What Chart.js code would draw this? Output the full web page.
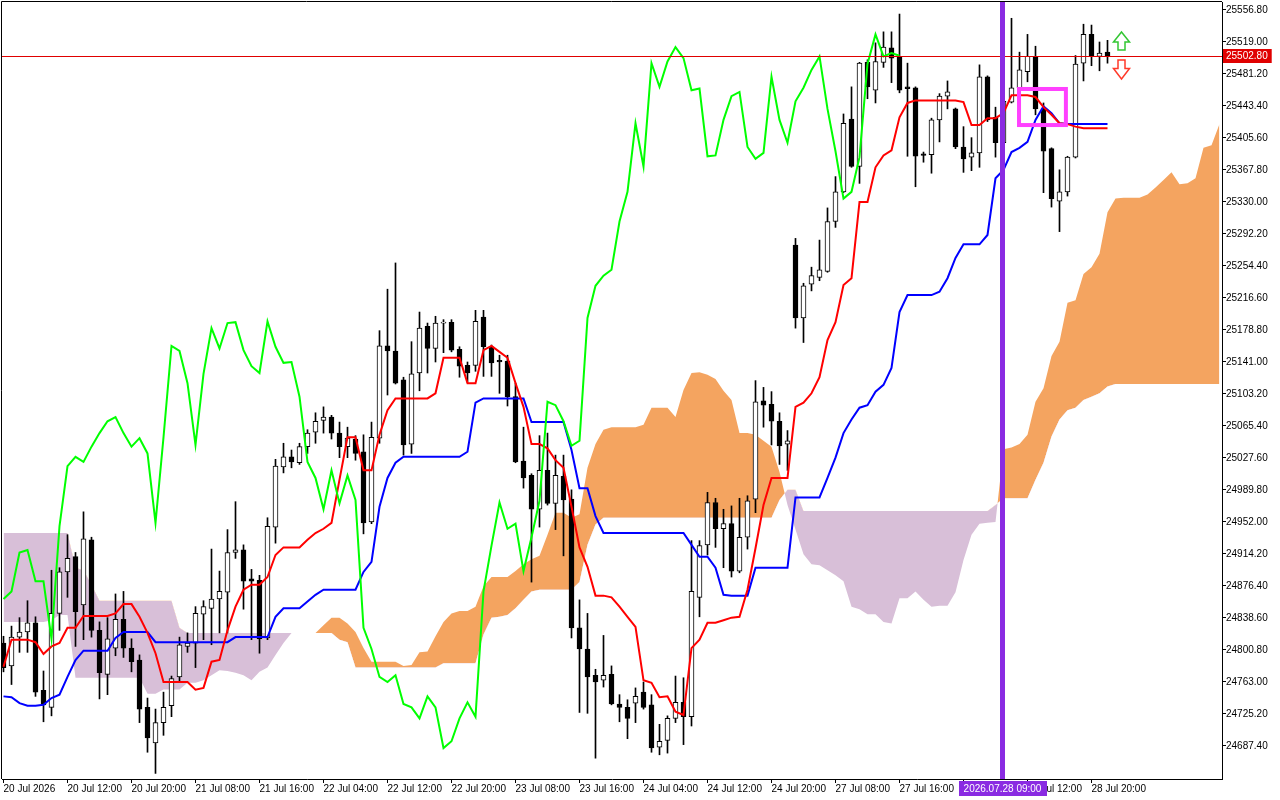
<!DOCTYPE html>
<html>
<head>
<meta charset="utf-8">
<title>Ichimoku H1</title>
<script src="https://cdn.jsdelivr.net/npm/chart.js"></script>
<style>
  html, body { margin: 0; padding: 0; background: #fff; overflow: hidden; }
  #wrap { width: 1280px; height: 800px; }
</style>
</head>
<body>
<div id="wrap"><canvas id="ichimokuChart" width="1280" height="800"></canvas></div>
<script>
// hourly candles, 20 Jul - 28 Jul 2026 (bar 0 = first visible bar)
const opens = [
  24809, 24782, 24816, 24822, 24833, 24753, 24733, 24844, 24893, 24911,
  24854, 24931, 24824, 24772, 24803, 24837, 24803, 24789, 24733, 24691,
  24715, 24735, 24769, 24805, 24809, 24843, 24850, 24861, 24869, 24916,
  24919, 24885, 24883, 24815, 24946, 25017, 25029, 25022, 25041, 25058,
  25072, 25076, 25057, 25041, 25050, 25035, 24952, 25051, 25160, 25154,
  25120, 25044, 25128, 25183, 25157, 25187, 25188, 25156, 25137, 25137,
  25194, 25159, 25143, 25142, 25100, 25024, 25007, 24967, 25013, 24974,
  25006, 24979, 24827, 24802, 24771, 24765, 24772, 24737, 24733, 24738,
  24751, 24736, 24686, 24694, 24720, 24739, 24722, 24863, 24925, 24975,
  24944, 24950, 24894, 24934, 24979, 25095, 25091, 25071, 25044, 25279,
  25193, 25233, 25241, 25248, 25307, 25342, 25428, 25372, 25495, 25462,
  25495, 25512, 25501, 25466, 25465, 25387, 25386, 25427, 25455, 25440,
  25395, 25383, 25388, 25478, 25430, 25400, 25448, 25465, 25484, 25502,
  25440, 25393, 25331, 25342, 25383, 25494, 25528, 25502, 25507
];
const highs = [
  24817, 24829, 24839, 24859, 24840, 24776, 24895, 24898, 24937, 24916,
  24964, 24934, 24834, 24839, 24867, 24870, 24814, 24795, 24744, 24731,
  24751, 24770, 24816, 24821, 24852, 24859, 24920, 24894, 24943, 24976,
  24925, 24896, 24889, 24957, 25026, 25045, 25037, 25045, 25061, 25081,
  25088, 25078, 25070, 25064, 25054, 25055, 25070, 25178, 25227, 25258,
  25123, 25165, 25200, 25187, 25195, 25191, 25191, 25159, 25141, 25202,
  25202, 25161, 25149, 25149, 25116, 25064, 25009, 25054, 25057, 25031,
  25031, 24990, 24860, 24844, 24778, 24818, 24782, 24748, 24742, 24756,
  24763, 24748, 24713, 24723, 24770, 24768, 24930, 24930, 24987, 24980,
  24967, 24971, 24980, 24983, 25119, 25111, 25106, 25081, 25060, 25287,
  25234, 25253, 25285, 25323, 25360, 25434, 25466, 25495, 25498, 25518,
  25531, 25531, 25552, 25494, 25466, 25389, 25429, 25458, 25473, 25441,
  25419, 25406, 25492, 25479, 25442, 25456, 25547, 25507, 25528, 25514,
  25447, 25394, 25368, 25384, 25503, 25540, 25539, 25519, 25521
];
const lows = [
  24775, 24760, 24798, 24798, 24746, 24716, 24723, 24824, 24863, 24805,
  24813, 24816, 24743, 24748, 24794, 24792, 24775, 24715, 24680, 24655,
  24700, 24722, 24764, 24798, 24780, 24813, 24807, 24821, 24821, 24909,
  24849, 24813, 24797, 24813, 24927, 25010, 25016, 25020, 25033, 25045,
  25057, 25050, 25028, 25028, 25025, 24938, 24950, 25045, 25102, 25115,
  25031, 25033, 25107, 25128, 25141, 25152, 25153, 25123, 25117, 25130,
  25124, 25124, 25104, 25089, 25022, 24992, 24881, 24946, 24972, 24943,
  24912, 24815, 24727, 24726, 24673, 24757, 24736, 24716, 24696, 24715,
  24731, 24680, 24677, 24679, 24715, 24689, 24711, 24840, 24913, 24922,
  24898, 24887, 24892, 24920, 24963, 25064, 25043, 25020, 25013, 25181,
  25164, 25225, 25237, 25247, 25300, 25341, 25371, 25352, 25452, 25447,
  25489, 25471, 25459, 25384, 25348, 25377, 25364, 25401, 25440, 25393,
  25365, 25367, 25371, 25425, 25383, 25391, 25447, 25462, 25472, 25433,
  25341, 25324, 25295, 25337, 25382, 25473, 25491, 25485, 25494
];
const closes = [
  24780, 24816, 24822, 24833, 24751, 24736, 24844, 24893, 24909, 24846,
  24932, 24824, 24774, 24814, 24837, 24803, 24787, 24731, 24697, 24715,
  24733, 24767, 24807, 24809, 24844, 24852, 24861, 24870, 24916, 24919,
  24882, 24882, 24814, 24947, 25018, 25029, 25023, 25041, 25057, 25071,
  25076, 25057, 25041, 25051, 25033, 24951, 25052, 25160, 25154, 25116,
  25043, 25127, 25181, 25157, 25187, 25188, 25155, 25136, 25128, 25189,
  25159, 25140, 25141, 25100, 25023, 25004, 24967, 25013, 24974, 25007,
  24978, 24827, 24802, 24769, 24763, 24771, 24737, 24733, 24720, 24746,
  24733, 24685, 24693, 24720, 24739, 24722, 24870, 24924, 24975, 24944,
  24950, 24894, 24934, 24977, 25094, 25090, 25071, 25042, 25048, 25193,
  25231, 25243, 25250, 25307, 25342, 25423, 25372, 25494, 25466, 25496,
  25513, 25500, 25462, 25464, 25384, 25385, 25427, 25455, 25460, 25395,
  25381, 25388, 25478, 25427, 25400, 25449, 25465, 25486, 25502, 25440,
  25390, 25334, 25342, 25383, 25493, 25528, 25502, 25506, 25502.8
];

// Ichimoku lines
const tenkan = [
  24781, 24813, 24813, 24813, 24810, 24796, 24805, 24809, 24827, 24827,
  24841, 24841, 24841, 24841, 24844, 24855, 24855, 24840, 24821, 24797,
  24763, 24763, 24763, 24763, 24754, 24756, 24787, 24789, 24824, 24852,
  24872, 24878, 24878, 24887, 24913, 24922, 24922, 24922, 24931, 24939,
  24944, 24951, 25002, 25052, 25052, 25013, 25013, 25055, 25084, 25098,
  25098, 25098, 25098, 25098, 25104, 25146, 25146, 25146, 25116, 25116,
  25155, 25160, 25153, 25146, 25116, 25088, 25044, 25044, 25039, 25025,
  25016, 24970, 24922, 24899, 24865, 24865, 24863, 24852, 24840, 24828,
  24765, 24762, 24745, 24746, 24728, 24724, 24803, 24813, 24833, 24833,
  24836, 24839, 24840, 24872, 24921, 24972, 25004, 25004, 25004, 25088,
  25093, 25104, 25123, 25167, 25188, 25232, 25240, 25330, 25330, 25371,
  25385, 25391, 25430, 25447, 25450, 25450, 25450, 25450, 25450, 25450,
  25448, 25421, 25421, 25429, 25429, 25435, 25456, 25456, 25456, 25454,
  25442, 25433, 25423, 25422, 25419, 25417, 25417, 25417, 25417
];
const kijun = [
  24746, 24745, 24738, 24735, 24735, 24736, 24744, 24748, 24769, 24789,
  24800, 24800, 24800, 24800, 24815, 24822, 24822, 24822, 24822, 24810,
  24810, 24810, 24810, 24810, 24810, 24810, 24810, 24810, 24810, 24816,
  24816, 24816, 24816, 24816, 24840, 24850, 24850, 24850, 24858, 24866,
  24872, 24872, 24872, 24872, 24872, 24893, 24905, 24970, 25004, 25022,
  25029, 25029, 25029, 25029, 25029, 25029, 25029, 25029, 25035, 25093,
  25098, 25098, 25098, 25098, 25098, 25098, 25070, 25070, 25070, 25070,
  25070, 25037, 24992, 24992, 24959, 24939, 24939, 24939, 24939, 24939,
  24939, 24939, 24939, 24939, 24939, 24939, 24925, 24911, 24911, 24898,
  24866, 24865, 24865, 24865, 24898, 24898, 24898, 24898, 24898, 24981,
  24981, 24981, 24981, 25004, 25028, 25057, 25073, 25087, 25090, 25106,
  25114, 25134, 25200, 25220, 25220, 25220, 25220, 25224, 25240, 25264,
  25280, 25280, 25280, 25291, 25358, 25368, 25389, 25394, 25401, 25427,
  25443, 25435, 25423, 25422, 25422, 25422, 25422, 25422, 25422
];
// cloud runs 14 bars past the last candle
const spanA = [
  24834, 24834, 24834, 24834, 24834, 24834, 24836, 24842, 24842, 24768,
  24768, 24768, 24768, 24768, 24768, 24768, 24768, 24768, 24749, 24749,
  24754, 24754, 24754, 24762, 24762, 24765, 24771, 24777, 24776, 24774,
  24771, 24765, 24775, 24780, 24795, 24809, 24821, 24821, 24821, 24821,
  24830, 24839, 24839, 24832, 24822, 24803, 24787, 24787, 24787, 24787,
  24782, 24783, 24798, 24799, 24817, 24834, 24844, 24847, 24847, 24852,
  24876, 24887, 24887, 24887, 24894, 24902, 24908, 24912, 24937, 24963,
  24963, 24957, 24961, 25016, 25044, 25061, 25064, 25064, 25064, 25064,
  25067, 25087, 25087, 25087, 25076, 25108, 25128, 25129, 25126, 25121,
  25107, 25096, 25057, 25057, 25055, 25048, 25041, 25011, 24972, 24943,
  24914, 24902, 24901, 24895, 24889, 24882, 24852, 24849, 24843, 24843,
  24834, 24832, 24862, 24862, 24870, 24860, 24852, 24853, 24853, 24869,
  24907, 24937, 24950, 24951, 24952, 25038, 25040, 25044, 25055, 25094,
  25110, 25148, 25165, 25211, 25214, 25245, 25253, 25269, 25318, 25334,
  25335, 25335, 25335, 25339, 25347, 25356, 25365, 25351, 25352, 25358,
  25394, 25397, 25422
];
const spanB = [
  24939, 24939, 24939, 24939, 24939, 24939, 24939, 24939, 24939, 24898,
  24895, 24878, 24859, 24859, 24859, 24859, 24859, 24859, 24859, 24859,
  24859, 24859, 24827, 24821, 24821, 24821, 24821, 24821, 24821, 24821,
  24821, 24821, 24821, 24821, 24821, 24821, 24821, 24821, 24821, 24821,
  24821, 24821, 24813, 24810, 24780, 24780, 24780, 24780, 24780, 24780,
  24780, 24780, 24780, 24780, 24780, 24785, 24785, 24785, 24785, 24785,
  24819, 24839, 24840, 24842, 24850, 24860, 24870, 24872, 24872, 24872,
  24872, 24872, 24881, 24925, 24949, 24957, 24957, 24957, 24957, 24957,
  24957, 24957, 24957, 24957, 24957, 24957, 24957, 24957, 24957, 24957,
  24957, 24957, 24957, 24957, 24957, 24957, 24957, 24978, 24990, 24990,
  24965, 24965, 24965, 24965, 24965, 24965, 24965, 24965, 24965, 24965,
  24965, 24965, 24965, 24965, 24965, 24965, 24965, 24965, 24965, 24965,
  24965, 24965, 24965, 24965, 24972, 24980, 24980, 24980, 24980, 25002,
  25022, 25053, 25073, 25084, 25087, 25096, 25100, 25104, 25112, 25115,
  25115, 25115, 25115, 25115, 25115, 25115, 25115, 25115, 25115, 25115,
  25115, 25115, 25115
];

const timeTickBars = [0, 8, 16, 24, 32, 40, 48, 56, 64, 72, 80, 88, 96, 104, 112, 120, 128, 136];
const timeLabels = [
  "20 Jul 2026", "20 Jul 12:00", "20 Jul 20:00", "21 Jul 08:00", "21 Jul 16:00", "22 Jul 04:00",
  "22 Jul 12:00", "22 Jul 20:00", "23 Jul 08:00", "23 Jul 16:00", "24 Jul 04:00", "24 Jul 12:00",
  "24 Jul 20:00", "27 Jul 08:00", "27 Jul 16:00", "28 Jul 04:00", "28 Jul 12:00", "28 Jul 20:00"
];
const priceTicks = [
  25556.8, 25519.0, 25481.2, 25443.4, 25405.6, 25367.8, 25330.0, 25292.2, 25254.4, 25216.6,
  25178.8, 25141.0, 25103.2, 25065.4, 25027.6, 24989.8, 24952.0, 24914.2, 24876.4, 24838.6,
  24800.8, 24763.0, 24725.2, 24687.4
];

// chart objects
const cursorBar = 125;
const cursorLabel = "2026.07.28 09:00";
const boxBars = [126.94, 132.8];
const boxPrices = [25463.5, 25420.9];
const arrowBar = 139.75;
const upArrow = [25530.8, 25509.5];
const downArrow = [25475.3, 25497.7];

(() => {
  const ctx = document.querySelector("#ichimokuChart");
  const FONT = '"Liberation Sans", Arial, sans-serif';
  const xy = (arr) => arr.map((v, i) => ({ x: i, y: v }));
  const last = closes[closes.length - 1];
  // chikou span = close plotted 26 bars back
  const chikou = closes.slice(26);

  Chart.defaults.font.family = FONT;
  Chart.defaults.font.size = 10;
  Chart.defaults.color = "#000";

  function drawArrow(c, cx, tipY, baseY, color) {
    const hy = tipY + (baseY - tipY) * 0.55;
    c.beginPath();
    c.moveTo(cx, tipY);
    c.lineTo(cx + 8, hy);
    c.lineTo(cx + 3.5, hy);
    c.lineTo(cx + 3.5, baseY);
    c.lineTo(cx - 3.5, baseY);
    c.lineTo(cx - 3.5, hy);
    c.lineTo(cx - 8, hy);
    c.closePath();
    c.fillStyle = "#fff";
    c.fill();
    c.strokeStyle = color;
    c.lineWidth = 1.5;
    c.stroke();
  }

  const overlay = {
    id: "overlay",
    beforeDraw(chart) {
      const c = chart.ctx;
      c.save();
      c.fillStyle = "#fff";
      c.fillRect(0, 0, chart.width, chart.height);
      c.restore();
    },
    afterDatasetsDraw(chart) {
      const { ctx: c, chartArea: a, scales: { x, y } } = chart;
      c.save();
      c.beginPath();
      c.rect(a.left, a.top, a.right - a.left, a.bottom - a.top);
      c.clip();

      // bid line
      const by = Math.round(y.getPixelForValue(last));
      c.fillStyle = "#e00000";
      c.fillRect(a.left, by, a.right - a.left, 1);

      // rectangle object
      const x0 = x.getPixelForValue(boxBars[0]);
      const x1 = x.getPixelForValue(boxBars[1]);
      const y0 = y.getPixelForValue(boxPrices[0]);
      const y1 = y.getPixelForValue(boxPrices[1]);
      c.strokeStyle = "#ff40ff";
      c.lineWidth = 4;
      c.strokeRect(x0, y0, x1 - x0, y1 - y0);

      // cursor line
      const cx = Math.floor(x.getPixelForValue(cursorBar));
      c.fillStyle = "#8a2be2";
      c.fillRect(cx - 3, a.top, 5, a.bottom - a.top);

      // arrows
      const ax = x.getPixelForValue(arrowBar);
      drawArrow(c, ax, y.getPixelForValue(upArrow[0]), y.getPixelForValue(upArrow[1]), "#33c633");
      drawArrow(c, ax, y.getPixelForValue(downArrow[0]), y.getPixelForValue(downArrow[1]), "#ff3a2a");
      c.restore();
    },
    afterDraw(chart) {
      const { ctx: c, chartArea: a, scales: { x, y } } = chart;
      c.save();
      // frame left and top
      c.strokeStyle = "#000";
      c.lineWidth = 1;
      c.beginPath();
      c.moveTo(a.left - 0.5, a.bottom);
      c.lineTo(a.left - 0.5, a.top - 0.5);
      c.lineTo(a.right, a.top - 0.5);
      c.stroke();

      c.font = "10px " + FONT;
      c.textBaseline = "middle";

      // bid price tag
      const by = Math.round(y.getPixelForValue(last));
      const tag = last.toFixed(2);
      const tw = c.measureText(tag).width;
      c.fillStyle = "#e00000";
      c.fillRect(a.right + 1, by - 7, tw + 7, 14);
      c.fillStyle = "#fff";
      c.textAlign = "left";
      c.fillText(tag, a.right + 4, by + 0.5);

      // cursor time tag
      const cx = x.getPixelForValue(cursorBar);
      const lw = c.measureText(cursorLabel).width + 10;
      c.fillStyle = "#8a2be2";
      c.fillRect(Math.round(cx - lw / 2) - 1, a.bottom + 2, Math.round(lw), 15);
      c.fillStyle = "#fff";
      c.textAlign = "center";
      c.fillText(cursorLabel, cx - 1, a.bottom + 10);
      c.restore();
    },
  };

  new Chart(ctx, {
    type: "bar",
    data: {
      datasets: [
        {
          type: "line",
          label: "Chikou Span",
          data: xy(chikou),
          borderColor: "#00ff00",
          borderWidth: 2,
          pointRadius: 0,
          order: 1,
        },
        {
          type: "line",
          label: "Tenkan-sen",
          data: xy(tenkan),
          borderColor: "#ff0000",
          borderWidth: 2,
          pointRadius: 0,
          order: 2,
        },
        {
          type: "line",
          label: "Kijun-sen",
          data: xy(kijun),
          borderColor: "#0000ff",
          borderWidth: 2,
          pointRadius: 0,
          order: 3,
        },
        {
          label: "body",
          data: opens.map((o, i) => ({ x: i, y: [o, closes[i]] })),
          backgroundColor: closes.map((c, i) => (c >= opens[i] ? "#ffffff" : "#000000")),
          borderColor: "#000",
          borderWidth: 1,
          borderSkipped: false,
          barThickness: 5,
          minBarLength: 1,
          grouped: false,
          order: 4,
        },
        {
          label: "wick",
          data: lows.map((l, i) => ({ x: i, y: [l, highs[i]] })),
          backgroundColor: "#000",
          barThickness: 1,
          grouped: false,
          order: 5,
        },
        {
          type: "line",
          label: "Senkou Span A",
          data: xy(spanA),
          borderWidth: 0,
          pointRadius: 0,
          fill: { target: 6, above: "#f4a460", below: "#d8bfd8" },
          order: 10,
        },
        {
          type: "line",
          label: "Senkou Span B",
          data: xy(spanB),
          borderWidth: 0,
          pointRadius: 0,
          order: 11,
        },
      ],
    },
    options: {
      responsive: false,
      devicePixelRatio: 1,
      animation: false,
      layout: { padding: { top: 2, left: 2, right: 0, bottom: 0 } },
      plugins: {
        legend: { display: false },
        tooltip: { enabled: false },
      },
      scales: {
        x: {
          type: "linear",
          offset: false,
          min: -0.1875,
          max: 152.3125,
          afterBuildTicks: (s) => {
            s.ticks = timeTickBars.map((v) => ({ value: v }));
          },
          afterFit: (s) => {
            s.height = 21;
            s.paddingLeft = 0;
            s.paddingRight = 0;
          },
          ticks: {
            autoSkip: false,
            maxRotation: 0,
            align: "start",
            padding: 0,
            callback: (v, i) => timeLabels[i],
          },
          grid: { drawOnChartArea: false, offset: false, tickLength: 4, color: "#000" },
          border: { display: true, color: "#000" },
        },
        y: {
          type: "linear",
          position: "right",
          min: 24648.4,
          max: 25566.25,
          afterBuildTicks: (s) => {
            s.ticks = priceTicks.map((v) => ({ value: v }));
          },
          afterFit: (s) => {
            s.width = 58;
            s.paddingTop = 0;
            s.paddingBottom = 0;
          },
          ticks: {
            padding: 0,
            callback: (v) => v.toFixed(2),
          },
          grid: { drawOnChartArea: false, tickLength: 4, color: "#000" },
          border: { display: true, color: "#000" },
        },
      },
    },
    plugins: [overlay],
  });
})();
</script>
</body>
</html>
